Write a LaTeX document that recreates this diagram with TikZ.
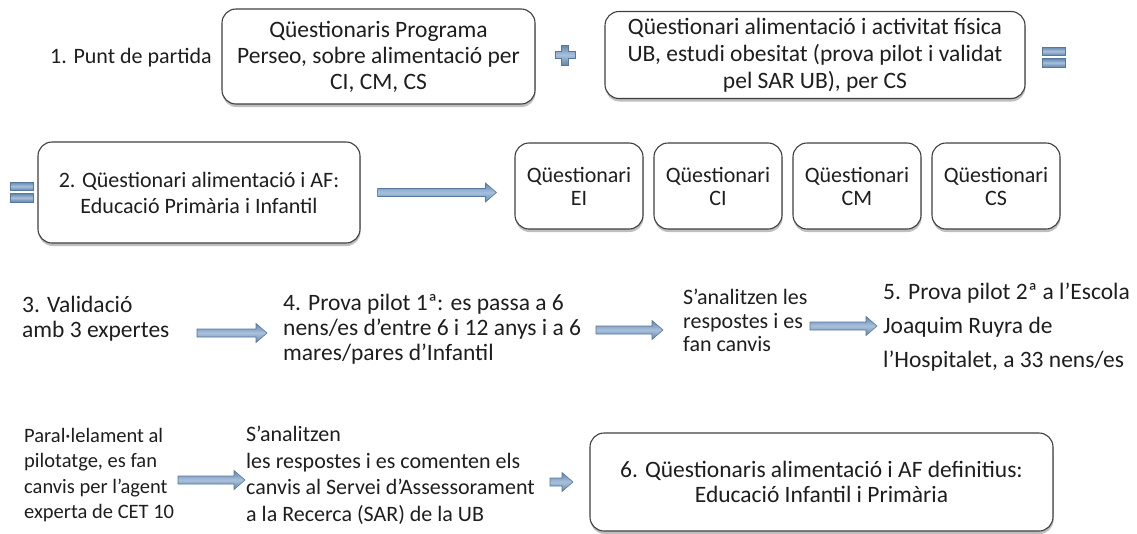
\documentclass[tikz,border=0pt]{standalone}
\usepackage{fontspec}
\setmainfont{Carlito}
\usetikzlibrary{calc,shadows}

\definecolor{ink}{HTML}{1E1E1E}
\definecolor{boxline}{HTML}{3F3F3F}
\definecolor{arrowdark}{HTML}{6285AD}
\definecolor{arrowlight}{HTML}{A9C0DB}
\definecolor{arrowedge}{HTML}{55789F}
\newcommand\fsz[2]{\fontsize{#1}{#2}\selectfont}

\tikzset{
  card/.style={draw=boxline, line width=1.1pt, fill=white, rounded corners=14pt,
    align=center, inner sep=0pt, text=ink,
    drop shadow={shadow xshift=0.5pt, shadow yshift=-3pt, opacity=0.25, fill=black}},
  txt/.style={anchor=north west, inner sep=0pt, align=left, text=ink},
  sign/.style={draw=arrowedge, line width=0.6pt, top color=arrowdark,
    bottom color=arrowdark, middle color=arrowlight},
  flow/.style={sign, to path={let \p1=(\tikztostart), \p2=(\tikztotarget) in
    (\x1,\y1+4pt) -- (\x2-11pt,\y1+4pt) -- (\x2-11pt,\y1+9.5pt) -- (\x2,\y1)
    -- (\x2-11pt,\y1-9.5pt) -- (\x2-11pt,\y1-4pt) -- (\x1,\y1-4pt) -- cycle}},
}

\begin{document}
\begin{tikzpicture}[x=1pt, y=-1pt]
    \useasboundingbox (0,0) rectangle (1137,533);

    % 1. punt de partida
    \node[anchor=base west, inner sep=0pt, text=ink, font=\fsz{22}{27}] (start) at (50,63) {1. Punt de partida};
    \node[card, minimum width=313pt, minimum height=95pt, font=\fsz{23.5}{26}] (perseo) at (378.5,56.5)
        {Qüestionaris Programa\\Perseo, sobre alimentació per\\CI, CM, CS};
    \path[sign, shift={(565,55)}] (-3.5,-10) -- (3.5,-10) -- (3.5,-3.5) -- (10,-3.5) -- (10,3.5) -- (3.5,3.5)
        -- (3.5,10) -- (-3.5,10) -- (-3.5,3.5) -- (-10,3.5) -- (-10,-3.5) -- (-3.5,-3.5) -- cycle;
    \node[card, minimum width=420pt, minimum height=87pt, font=\fsz{23.5}{27}] (ub) at (815,55)
        {Qüestionari alimentació i activitat física\\UB, estudi obesitat (prova pilot i validat\\pel SAR UB), per CS};
    \path[sign] (1042,47) rectangle (1065,55.5);
    \path[sign] (1042,58.5) rectangle (1065,67);

    % 2. questionari per etapes
    \path[sign] (10,182) rectangle (33,190.5);
    \path[sign] (10,193.5) rectangle (33,202);
    \node[card, minimum width=322pt, minimum height=101pt, font=\fsz{22}{26}] (draft) at (199,192.5)
        {2. Qüestionari alimentació i AF:\\Educació Primària i Infantil};
    \foreach \lvl [count=\i from 0] in {EI,CI,CM,CS}
        \node[card, minimum width=128pt, minimum height=86pt, font=\fsz{22}{23}] (q\lvl) at (579+139*\i,186) {Qüestionari\\\lvl};
    \path[flow] ([xshift=17pt]draft.east) to ([xshift=-18pt]qEI.west);

    % 3.-5. validacio i proves pilot
    \node[txt, font=\fsz{23.5}{25}] (valid) at (22,296) {3. Validació\\amb 3 expertes};
    \node[txt, font=\fsz{23.5}{25}] (pilot1) at (283,294)
        {4. Prova pilot 1ª: es passa a 6\\nens/es d’entre 6 i 12 anys i a 6\\mares/pares d’Infantil};
    \node[txt, font=\fsz{22}{23.5}] (review1) at (683,289) {S’analitzen les\\respostes i es\\fan canvis};
    \node[txt, font=\fsz{23.5}{34}] (pilot2) at (883,283)
        {5. Prova pilot 2ª a l’Escola\\Joaquim Ruyra de\\l’Hospitalet, a 33 nens/es};
    \coordinate (v1) at (197,333);  \coordinate (v2) at (267,333);
    \coordinate (p1) at (596,330);  \coordinate (p2) at (663,330);
    \coordinate (r1) at (810,326);  \coordinate (r2) at (877,326);
    \path[flow] (v1) to (v2);
    \path[flow] (p1) to (p2);
    \path[flow] (r1) to (r2);

    % 6. versio definitiva
    \node[txt, font=\fsz{20.5}{25.5}] (parallel) at (24,428)
        {Paral·lelament al\\pilotatge, es fan\\canvis per l’agent\\experta de CET 10};
    \node[txt, font=\fsz{22}{26.5}] (review2) at (246,426)
        {S’analitzen\\les respostes i es comenten els\\canvis al Servei d’Assessorament\\a la Recerca (SAR) de la UB};
    \node[card, minimum width=463pt, minimum height=98pt, font=\fsz{23.5}{25}] (final) at (821.5,482)
        {6. Qüestionaris alimentació i AF definitius:\\Educació Infantil i Primària};
    \coordinate (s1) at (178,480);  \coordinate (s2) at (245,480);
    \coordinate (d1) at (550,482);  \coordinate (d2) at (573,482);
    \path[flow] (s1) to (s2);
    \path[flow] (d1) to (d2);
\end{tikzpicture}
\end{document}
